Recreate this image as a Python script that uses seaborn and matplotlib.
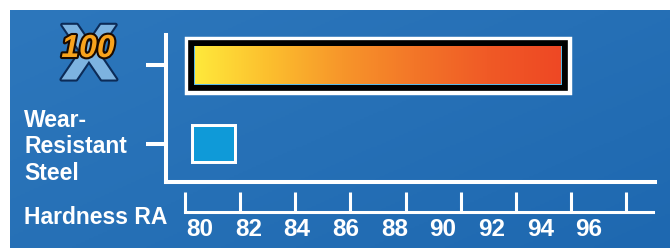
import numpy as np
import matplotlib
matplotlib.use("Agg")
import matplotlib.pyplot as plt
import matplotlib.patheffects as pe
from matplotlib.colors import LinearSegmentedColormap
import seaborn as sns


# =========================
# DATA
# =========================

materials = ["X100", "Wear-Resistant Steel"]

hardness = [94.9, 81.4]

material_lines = ["Wear-", "Resistant", "Steel"]

scale_values = [80, 82, 84, 86, 88, 90, 92, 94, 96]

axis_title = "Hardness RA"


# =========================
# LAYOUT HELPERS
# =========================

W, H = 670, 248

def fx(px):
    return px / W

def fy(py):
    return 1 - py / H

# x scale: 80 sits at 200 px, 24.3 px per RA point
PX_PER_UNIT = 24.3
X0_PX = 200

def px_to_val(px):
    return 80 + (px - X0_PX) / PX_PER_UNIT

AX_LEFT, AX_RIGHT = 165.5, 655
XMIN, XMAX = px_to_val(AX_LEFT), px_to_val(AX_RIGHT)

bar_start = 79.75

plt.rcParams['font.family'] = ['Liberation Sans', 'DejaVu Sans']

fig = plt.figure(figsize=(6.7, 2.48), dpi=100)

fig.patch.set_facecolor('white')


# =========================
# BACKGROUND
# =========================

bg = fig.add_axes([fx(10), 0, fx(660), 238 / H])

gx, gy = np.meshgrid(np.linspace(0, 1, 300), np.linspace(0, 1, 120))

blue = LinearSegmentedColormap.from_list("bg", ["#2d77bc", "#2670b6", "#1e68b0"])

bg.imshow(0.55 * gx + 0.45 * gy, cmap=blue, aspect='auto', extent=[0, 1, 0, 1])

bg.set_axis_off()


# =========================
# BARS
# =========================

ax = fig.add_axes([fx(AX_LEFT), fy(182), fx(AX_RIGHT - AX_LEFT), (182 - 35) / H])

ax.set_facecolor('none')

sns.barplot(

    x=hardness,

    y=materials,

    hue=materials,

    palette=['#5ab8e6', '#0f9ad8'],

    orient='h',

    width=0.5,

    saturation=1,

    legend=False,

    ax=ax
)

fire = LinearSegmentedColormap.from_list(

    "fire",

    ["#ffe93b", "#fcbf2e", "#f7962a", "#f37628", "#f05a26", "#ee4824"]
)

bar_heights = [0.5, 0.43]

for p, v, h in zip(ax.patches, hardness, bar_heights):

    yc = p.get_y() + p.get_height() / 2

    p.set_y(yc - h / 2)

    p.set_height(h)

    p.set_x(bar_start)

    p.set_width(v - bar_start)

    p.set_edgecolor('none')


x100, wear = ax.patches[0], ax.patches[1]

x100.set_path_effects([

    pe.Stroke(linewidth=14.0, foreground='white', joinstyle='miter'),

    pe.Stroke(linewidth=8.4, foreground='black', joinstyle='miter'),

    pe.Normal()
])

wear.set_path_effects([

    pe.Stroke(linewidth=4.3, foreground='white', joinstyle='miter'),

    pe.Normal()
])

# gradient fill, inset by ~1 px so the light blue rim stays visible
dx, dy = 1.2 / PX_PER_UNIT, 1.2 / 79
x0, y0 = x100.get_x(), x100.get_y()
w, h = x100.get_width(), x100.get_height()

ax.imshow(

    np.linspace(0, 1, 256).reshape(1, -1),

    cmap=fire,

    aspect='auto',

    extent=[x0 + dx, x0 + w - dx, y0 + h - dy, y0 + dy],

    zorder=5
)

ax.set_xlim(XMIN, XMAX)

ax.set_ylim(1.475, -0.386)

for side in ['top', 'right']:
    ax.spines[side].set_visible(False)

for side in ['left', 'bottom']:
    ax.spines[side].set_color('white')
    ax.spines[side].set_linewidth(2.9)
    ax.spines[side].set_capstyle('projecting')

ax.set_xticks([])

ax.tick_params(axis='y', length=14.4, width=2.9, color='white', direction='out', labelleft=False)

ax.set_xlabel("")

ax.set_ylabel("")


# =========================
# HARDNESS SCALE
# =========================

ax2 = fig.add_axes([fx(AX_LEFT), fy(212.3), fx(AX_RIGHT - AX_LEFT), 20 / H])

ax2.set_facecolor('none')

ax2.set_xlim(XMIN, XMAX)

ax2.set_ylim(0, 1)

for side in ['top', 'right', 'left']:
    ax2.spines[side].set_visible(False)

ax2.spines['bottom'].set_color('white')
ax2.spines['bottom'].set_linewidth(2.2)
ax2.spines['bottom'].set_bounds(px_to_val(185), px_to_val(653))

ax2.set_xticks(np.linspace(px_to_val(185), px_to_val(626), len(scale_values)))

ax2.tick_params(which='major', direction='in', length=14.4, width=2.2, color='white', labelbottom=False)

ax2.set_xticks(scale_values, minor=True)

ax2.set_xticklabels([str(v) for v in scale_values], minor=True)

ax2.tick_params(which='minor', length=0, pad=4, labelsize=17.5, labelcolor='white')

for t in ax2.get_xticklabels(minor=True):
    t.set_fontweight('bold')

ax2.set_yticks([])


# =========================
# TEXT
# =========================

fig.text(fx(24), fy(224), axis_title, fontsize=16.5, fontweight='bold', color='white', va='baseline')

for line, base in zip(material_lines, [127, 153, 180]):

    fig.text(fx(24), fy(base), line, fontsize=16.5, fontweight='bold', color='white', va='baseline')

# X100 logo: the "100" sits on top of the big X
fig.text(

    fx(89), fy(59), "X",

    fontsize=54, fontweight='bold', family=['DejaVu Sans'], color='#7db3e0',

    ha='center', va='center',

    path_effects=[pe.Stroke(linewidth=3, foreground='#0c2b57'), pe.Normal()]
)

fig.text(

    fx(88), fy(49), "100",

    fontsize=23, fontweight='bold', fontstyle='italic', color='#f9a31c',

    ha='center', va='center',

    path_effects=[pe.Stroke(linewidth=3, foreground='#1a0a00'), pe.Normal()]
)

fig.savefig("out.png", dpi=100, facecolor=fig.get_facecolor())
